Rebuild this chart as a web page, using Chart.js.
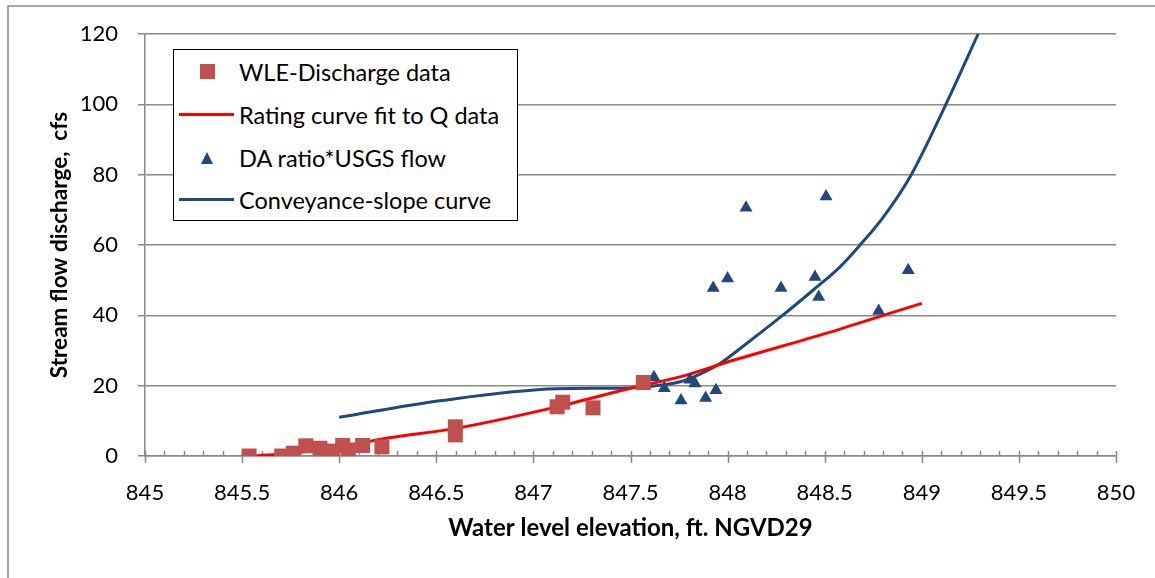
<!DOCTYPE html>
<html>
<head>
<meta charset="utf-8">
<script src="https://cdn.jsdelivr.net/npm/chart.js@4"></script>
<style>
  html, body { margin: 0; padding: 0; background: #fff; }
  #wrap { position: relative; width: 1155px; height: 578px; }
  #legend {
    position: absolute; left: 173px; top: 49px; width: 343px; height: 170px;
    border: 1.5px solid #000; background: #fff;
    font-family: Lato, sans-serif; font-size: 23.5px; color: #000;
  }
  .row { position: absolute; left: 0; height: 30px; width: 100%; }
  .row span { position: absolute; left: 65px; top: 0; line-height: 30px; white-space: nowrap; }
  .sq { position: absolute; left: 26px; top: 7px; width: 15px; height: 15px; background: #c0504d; }
  .tri { position: absolute; left: 27px; top: 9px; width: 0; height: 0;
    border-left: 6.5px solid transparent; border-right: 6.5px solid transparent; border-bottom: 12px solid #1f497d; }
  .ln { position: absolute; left: 5px; top: 13px; width: 55px; height: 3px; }
</style>
</head>
<body>
<div id="wrap">
  <canvas id="chart" width="1155" height="578"></canvas>
  <div id="legend">
    <div class="row" style="top:7px"><div class="sq"></div><span>WLE-Discharge data</span></div>
    <div class="row" style="top:50px"><div class="ln" style="background:#ff0000"></div><span>Rating curve fit to Q data</span></div>
    <div class="row" style="top:93px"><div class="tri"></div><span>DA ratio*USGS flow</span></div>
    <div class="row" style="top:135px"><div class="ln" style="background:#1f497d"></div><span>Conveyance-slope curve</span></div>
  </div>
</div>
<script>
// measured water levels and discharge
const wleX = [845.536, 845.704, 845.764, 845.828, 845.901, 845.965, 846.018, 846.047, 846.121, 846.220,
  846.598, 846.598, 847.122, 847.151, 847.307, 847.566];
const wleQ = [0.0, 0.0, 0.8, 2.9, 2.2, 1.4, 3.0, 1.7, 3.0, 2.6,
  8.3, 6.0, 14.0, 15.3, 13.7, 20.9];

// drainage-area ratio * USGS flow
const daX = [847.621, 847.674, 847.760, 847.806, 847.832, 847.887, 847.940, 847.926,
  848.000, 848.095, 848.275, 848.450, 848.469, 848.507, 848.778, 848.930];
const daQ = [22.4, 19.3, 15.8, 21.7, 20.6, 16.5, 18.7, 47.8,
  50.5, 70.6, 47.8, 50.9, 45.2, 73.8, 41.2, 52.8];

// rating curve fit
const ratingX = [845.535, 845.715, 846.015, 846.215, 846.615, 847.115, 847.515, 847.755, 848.015, 848.515, 848.888, 849.0];
const ratingQ = [0.0, 0.6, 2.6, 4.8, 8.0, 13.9, 19.5, 22.5, 27.0, 35.0, 41.5, 43.4];

// conveyance-slope curve
const convX = [846.0, 846.52, 847.12, 847.45, 847.6, 847.755, 847.858, 847.961, 848.098, 848.27,
  848.441, 848.579, 848.682, 848.8, 848.94, 849.12, 849.29];
const convQ = [11.0, 15.7, 19.1, 19.3, 19.8, 21.1, 23.3, 26.3, 32.0, 39.4,
  47.2, 53.8, 60.0, 67.8, 79.4, 99.5, 120];

const gridColor = '#898989';
const font = 'Lato, sans-serif';

function pts(xs, ys) {
  return xs.map((x, i) => ({ x: x, y: ys[i] }));
}

// outer frame (only the top and left edges are in view)
const framePlugin = {
  id: 'frame',
  beforeDraw(chart) {
    const ctx = chart.ctx;
    ctx.save();
    ctx.strokeStyle = gridColor;
    ctx.lineWidth = 1.5;
    ctx.beginPath();
    ctx.moveTo(1155, 6);
    ctx.lineTo(8, 6);
    ctx.lineTo(8, 578);
    ctx.stroke();
    ctx.restore();
  }
};

// x axis tick marks: major cross the axis, minor point inward
const xTickPlugin = {
  id: 'xTicks',
  beforeDatasetsDraw(chart) {
    const ctx = chart.ctx;
    const xs = chart.scales.x;
    const y0 = xs.top;
    ctx.save();
    ctx.strokeStyle = gridColor;
    ctx.lineWidth = 1.5;
    ctx.beginPath();
    for (let i = 0; i <= 50; i++) {
      const px = Math.round(xs.getPixelForValue(845 + i * 0.1)) + 0.5;
      ctx.moveTo(px, y0 - 5);
      ctx.lineTo(px, i % 5 === 0 ? y0 + 7 : y0);
    }
    ctx.stroke();
    ctx.restore();
  }
};

new Chart(document.getElementById('chart'), {
  type: 'scatter',
  data: {
    datasets: [
      {
        label: 'WLE-Discharge data',
        data: pts(wleX, wleQ),
        pointStyle: 'rect',
        pointRadius: 10.6,
        backgroundColor: '#c0504d',
        borderWidth: 0,
        order: 1
      },
      {
        label: 'DA ratio*USGS flow',
        data: pts(daX, daQ),
        pointStyle: 'triangle',
        pointRadius: 7.5,
        backgroundColor: '#1f497d',
        borderWidth: 0,
        order: 2
      },
      {
        label: 'Rating curve fit to Q data',
        data: pts(ratingX, ratingQ),
        showLine: true,
        borderColor: '#ff0000',
        borderWidth: 3,
        pointRadius: 0,
        cubicInterpolationMode: 'monotone',
        order: 3
      },
      {
        label: 'Conveyance-slope curve',
        data: pts(convX, convQ),
        showLine: true,
        borderColor: '#1f497d',
        borderWidth: 3,
        pointRadius: 0,
        cubicInterpolationMode: 'monotone',
        order: 4
      }
    ]
  },
  options: {
    responsive: false,
    animation: false,
    layout: { padding: { left: 0, right: 39, top: 34, bottom: 0 } },
    plugins: {
      legend: { display: false },
      tooltip: { enabled: false }
    },
    scales: {
      x: {
        type: 'linear',
        min: 845,
        max: 850,
        // tick marks are drawn by xTickPlugin; tickLength only offsets the labels
        grid: { display: false, drawTicks: true, tickLength: 18 },
        border: { display: true, color: gridColor, width: 1.5 },
        ticks: {
          stepSize: 0.5, padding: 6, color: '#000', font: { family: font, size: 22 },
          callback: v => Number.isInteger(v) ? String(v) : v.toFixed(1)
        },
        title: {
          display: true,
          text: 'Water level elevation, ft. NGVD29',
          color: '#000',
          font: { family: font, size: 24, weight: 'bold' },
          padding: { top: 0, bottom: 35 }
        },
        afterFit(scale) { scale.height = 122; }
      },
      y: {
        min: 0,
        max: 120,
        grid: { color: gridColor, lineWidth: 1.5, tickLength: 7 },
        border: { display: true, color: gridColor, width: 1.5 },
        ticks: { stepSize: 20, padding: 20, color: '#000', font: { family: font, size: 22 } },
        title: {
          display: true,
          text: 'Stream flow discharge,  cfs',
          color: '#000',
          font: { family: font, size: 22.5, weight: 'bold' },
          padding: { top: 46, bottom: 0 }
        },
        afterFit(scale) { scale.width = 145; }
      }
    }
  },
  plugins: [framePlugin, xTickPlugin]
});
</script>
</body>
</html>
